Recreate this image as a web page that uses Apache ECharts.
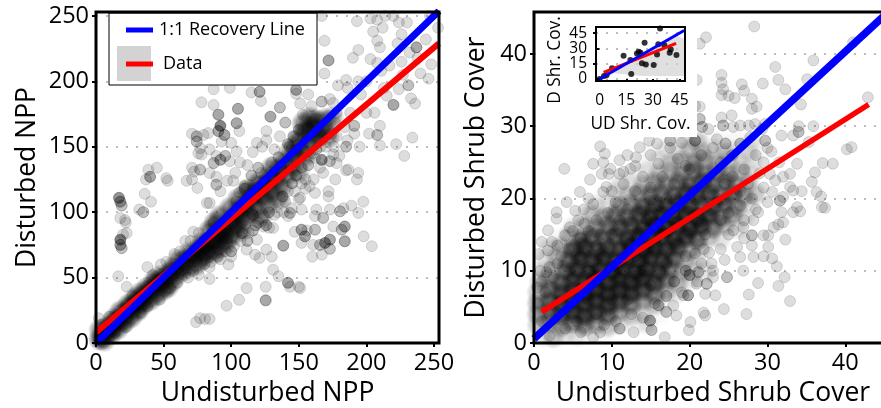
<!DOCTYPE html>
<html><head><meta charset="utf-8">
<script src="https://cdn.jsdelivr.net/npm/echarts@6/dist/echarts.min.js"></script>
<style>html,body{margin:0;padding:0;background:#fff;overflow:hidden}#c{width:881px;height:408px}</style>
</head><body><div id="c"></div>
<script>
// [x, y] or [x, y, n] where n = overlapping observations read at that spot
const nppUpperRight=[[167,250],[193,246],[203,248],[208,247],[214,250],[220,250],[224,245],[230,245],[247,250],[253,241],[205,238],[212,241],[208,231],[210,226],[226,236],[223,229],[194,224],[190,218],[203,217],[208,214],[169,231],[172,216,3],[169,206],[248,213],[237,226,3],[232,222],[226,215],[217,212],[211,208],[240,206],[246,202],[231,197,2],[224,194],[200,200],[194,200],[185,201],[179,197],[186,195],[233,187],[236,183],[220,182,3],[215,189],[206,176],[200,176],[191,166,2],[191,160],[210,166],[202,160],[208,159,2],[210,151],[222,152],[234,157],[228,143],[195,150],[185,150,2],[186,155],[178,158],[180,143],[185,132],[194,130],[193,125],[186.6,132.5],[176,150],[184,165],[188,176],[196,190],[213,195],[227,205],[238,218],[244,232]];
const nppUpperMiddle=[[71,160],[74.5,158,2],[74.5,154,2],[78,184],[87,182],[87,194],[99,195],[105,179,3],[83,160.5],[79.5,159],[77,149],[78,144],[84,148],[75.7,145],[87,137.5,2],[92,140,3],[95.6,143,2],[89,143],[90.5,174.5,3],[92,166,5],[90.5,162,3],[95,159,3],[93,154],[104,168,3],[106,162],[100,153],[104,146.5],[99,139],[106.5,138],[119,153],[126,162],[126,155],[121,192,3],[115,191.5],[122,185],[129,173,3],[136,180,2],[140,168.5,2],[148,193.5,3],[157,190],[148,190.5],[151,183],[167,184.5,2],[159.5,181],[153,174.5],[173,186.5],[175.5,183.5],[112,136],[116,146],[123,150],[132,148],[136,158]];
const nppLeftGroups=[[17,111,4],[18,108,3],[19,105,2],[18,95.5],[21.5,94],[22,92],[22.7,84],[20,83],[18,79,5],[18,75,3],[19,72.5,2],[16.5,51],[22.7,43],[40,127,3],[37,125],[38.7,132.5],[45,134],[52,126],[53,124],[36,114],[40.7,108],[32,102],[35,100,2],[67,124],[71,125],[75,118.5],[71,134],[77,132.5,2],[72.5,131],[84,130],[89,121,2],[92,116],[89,127],[97,124],[103,130],[101.5,124],[84,107],[82,107],[2,19],[4,14],[38,58],[48,60],[58,68],[66,78],[72,85]];
const nppLowerRight=[[167,140,4],[162,141.5],[173,139,2],[178,137.5],[175.5,144],[161,125],[168,130],[165.7,134],[177,125],[172,116],[172,112],[162,114.7],[155,125],[158,120],[151,111],[152,102],[143.5,99.4,2],[144.7,103],[142,97],[163,102],[173,102],[180.5,100.7,2],[183,103],[189,105],[194,99.4],[197.7,108],[162,97],[168,95.6,2],[184,89,3],[181.7,86.6,2],[175.5,89],[184,77.7,3],[173,79,3],[169.4,76.5,4],[165.7,75,2],[173,72,2],[167,67.5],[160,66],[160.7,75],[154.6,81.5,3],[152,86.6,3],[147,85],[162,86.6,2],[156,86],[152,76.5],[198,81.5],[204,74],[138.5,74.4,3],[131,88],[124,89],[119,79],[126,71.4],[121,65],[130,66],[117.6,67.5],[111.4,71.4],[131,56],[135,51],[142,46,3],[143.5,43],[150,43],[151,42],[125.5,43],[125.5,32.6,3],[111.4,42],[105.8,33],[96.6,28.5],[84,49],[74,16],[77,19],[80.6,18.4],[84,18.4],[100,66],[107,78],[113,84],[118,90,2],[124,96],[140,108],[147,116],[152,122]];
const nppBandTexture=[[10,20],[14,8],[22,12],[27,36],[33,23],[38,28],[42,52],[47,33],[52,62],[55,42],[60,46],[62,70],[66,52],[70,78],[72,55],[76,84],[80,60],[85,62],[87,92],[90,66],[96,70],[98,60],[102,74],[106,115],[110,120],[112,78,2],[116,86,2],[120,92],[122,130],[126,90,2],[128,100,2],[130,138],[132,98],[135,142,2],[138,112,2],[139,100],[142,116],[143,150],[145,122,2],[148,128,2],[150,110],[152,134,2],[155,118],[157,136,2],[160,145],[163,148,2],[166,150],[170,150],[174,160],[177,168],[178,176],[150,163,2],[146,158,2],[142,152,2],[120,134,2],[115,128,2],[110,118,2],[104,108],[134,100],[128,88],[116,98,2],[108,84,2],[100,70,2],[92,64],[84,58],[76,52],[68,50]];
const nppDiagonal=[[3,3,8],[3,10,3],[6,2,3],[7,7,8],[8,12,4],[11,7,5],[12,13,8],[13,18,4],[16,11,4],[16,17,8],[18,24,4],[21,16,5],[21,22,8],[24,29,5],[26,20,5],[26,27,8],[29,34,4],[31,25,5],[31,31,8],[33,38,4],[35,30,5],[36,36,8],[38,42,4],[40,33,4],[41,41,8],[43,47,4],[45,37,4],[46,45,8],[47,51,3],[50,41,4],[50,49,8],[53,43,4],[54,53,6],[57,48,3],[57,57,5],[61,63,3],[60,53,4],[63,57,5],[66,63,5],[68,58,4],[69,69,3],[72,67,6],[74,60,4],[76,71,6],[78,64,4],[78,76,5],[80,68,5],[82,76,7],[84,70,4],[84,86,4],[87,78,7],[88,69,3],[90,84,7],[91,73,5],[88,92,4],[95,88,7],[96,77,5],[94,82,7],[92,97,3],[100,94,8],[100,82,4],[103,89,5],[105,100,8],[99,103,3],[107,86,3],[110,105,7],[108,94,4],[105,110,3],[112,117,4],[115,110,6],[113,98,4],[118,103,3],[118,115,6],[120,122,5],[123,112,5],[125,120,5],[122,96,3],[127,106,3],[128,127,5],[130,116,4],[133,125,4],[130,134,3],[135,110,3],[137,120,3],[136,133,5],[141,128,3],[140,139,3],[145,135,3],[143,146,2],[147,143,3],[150,130,2],[152,147,3],[150,155,4],[155,143,3],[155,162,6],[158,155,6],[160,165,6],[164,158,6],[163,170,5],[168,163,5],[170,171,3],[172,158,3],[147,150,3],[153,168,3],[175,172,2],[158,172,3]];
const nppOneToOneX=[0,253.7], nppOneToOneY=[0,253.7];
const nppFitX=[0,253.7], nppFitY=[8,229];

const shrubTop=[[28.3,43.8],[22.1,42.3],[21.3,41.4],[41,41.6],[35.9,39.1],[31,38.2],[24.1,37.1],[31.4,36.4],[20.9,36.4],[24.1,36],[24.3,35.1],[24.1,34.3],[25,34.2],[25.8,33.9],[26.7,35.8],[27,34.9],[29.4,35.9],[32.3,35.1],[35.1,36.5],[28,33.8],[28.6,32.7],[28,32.4],[34.3,33],[42.9,34],[25.4,31.5],[24.1,31.2],[21.3,32.7],[20.7,32.8]];
const shrubUpper=[[29.7,28,2],[33.3,28.7],[34,29.2,2],[31.8,28.7],[34,30],[35.9,30],[28.4,30.3],[29.7,30.3],[27.6,30.1],[26.5,30.1],[29.3,29.6],[24.3,30.1,2],[25.6,29.9],[21.3,31,2],[21.6,29.9,2],[22.4,29.6],[23.5,28.2],[24.6,27.6,2],[26.5,27.6,2],[27.8,28.5],[20.7,28,3],[17.5,28,2],[15.8,27.6],[14.8,28],[13.6,27.1],[30.5,26.5],[31.5,25],[29.5,25],[30,27]];
const shrubUpperLeft=[[3.9,24.1],[8.5,27.2],[9.1,26.2],[7.6,24.8],[8.9,25],[9.8,24.1],[8.7,23.4],[9.6,23.4],[7.2,22.6],[11,25.3],[11.5,23.7],[12.4,24.1],[11,23.4],[13.1,25.7],[5.9,20.9],[7,20],[4.2,19.5],[2.9,18.1],[2.9,17.2],[5.3,18.3],[6.4,18.5],[7.6,19.2],[8.9,20.9],[9.3,21.6],[1.8,15.6],[1,14],[2.3,14],[4,14.9],[4.6,16],[5.7,17],[0.6,12.3],[1.8,12.8],[0.4,7.7],[0.8,10],[1.6,9.8],[7,15.5],[3.5,12]];
const shrubLowerRight=[[21.8,13],[23,10],[24.8,9.1,2],[26.9,10],[26.5,11.9],[26.1,13.3],[28,13.5],[28.2,11.9],[29.5,14.9],[30.1,14.9],[28,14.9,2],[25.6,15.6],[26.9,16],[28.2,17],[28.8,18.1],[30.1,13.3],[29.5,12],[30.6,11.7],[30.8,16],[31.4,16.4],[32,16.7],[32.3,14.3],[31.8,18.1],[33.3,18.1],[34.2,18.2],[33.8,18.8],[31.6,19.7,2],[32,20.2],[30.6,20.9],[32.9,21.6],[34.4,21],[33.3,21.1],[32,23],[32.9,23.4],[31,22.5],[33.8,24.8],[30.3,23.4],[35.7,22.3],[36.1,23.6],[36.3,20.9],[36.9,20.3],[37,18.8],[37.4,18.7],[37.1,24.9],[38.4,24.8],[35.3,27.8],[40.2,26.8],[40.8,27.1],[31.2,10.6],[32.2,9.1],[28.8,8.3],[31.4,7.9],[27.6,6.7],[32.9,5.8],[27.3,4],[24.4,4.7]];
const shrubBottom=[[16.8,0.8],[19.9,1.8],[20.1,2.9],[22,3.8],[21.8,4.2],[14.9,3.1,3],[15.1,1.8,2],[12.8,1.5],[11,2,2],[7.6,0.8],[8.5,1.5],[18.3,3.8],[17,4.3,2],[16,5.2,2],[17.9,5.2],[19.2,6.6],[19.8,6.6,3],[22,6.8],[23.3,6.6],[22.2,8.2,2],[20.9,8.2],[20,9.4,3],[21.1,9.8,2],[23,9.1],[22.8,11],[20.7,12.4]];
const shrubTexture=[[12,26],[13,24.5],[15,26],[16,24.8],[17.5,27],[18.5,25.5],[19,27.7],[20,24],[21.5,26],[23,27],[24,25],[25.5,26],[27,24],[28.5,26],[29,23.5],[27.5,22],[29.5,21.5],[28,20],[30,19.5],[26.5,19],[28.5,18.5],[27,17],[25,15],[27,14.5],[24,13],[24.5,11.5],[22.5,12.5],[21.5,11],[19.5,10,2],[21,8.5],[18,8.5,2],[19,7],[17,6.5,2],[15.5,5.5],[14,3.5],[12.5,4],[10.5,3],[9,2.5],[6,1.5],[4,2],[2,1],[1,3],[0.5,5.5],[1.5,7],[1,8.5],[2,10.5],[3,11],[2.5,9],[3,13.5],[4.5,13],[5,15.5],[6,14.5],[6.5,16.5],[8,17],[8.5,15],[9.5,18],[10.5,19.5],[11,17],[12,18.5],[10,21],[11.5,22],[13,21],[14,23],[15,21.5],[16.5,23],[18,22],[19.5,24.5],[20.5,21],[22.5,23],[24.5,22],[26,20.5],[25,18],[23.5,19.5],[26.5,21],[14.5,17],[12.5,15],[16,19],[18,18],[20,20],[9,12],[7,10],[5,9],[3.5,6],[5.5,3],[8,4],[12,6],[15,8],[17,11],[19.5,12],[22,15],[24,17],[21,18],[10,6],[14,10],[16.5,13],[13,12],[11,9],[7,6],[4.5,5],[2,4],[6,12],[8,13.5],[10,15],[23,20.5],[25.5,23],[17,20],[15,18.5]];
const shrubCore=[[1,1,2],[2.5,0.8,3],[4,1.2,2],[5.5,1,2],[7.5,1.3,1],[9,1,1],
[0.5,2.5,3],[2,2.8,4],[3.5,2.3,4],[5,2.8,5],[6.5,2.4,5],[8,2.7,4],[9.5,2.3,3],[11,2.6,2],[13,2.4,1],[14.5,2.7,2],
[0.5,4,4],[2,4.3,5],[3.5,3.9,7],[5,4.2,8],[6.5,3.8,8],[8,4.2,7],[9.5,3.9,6],[11,4.3,4],[12.5,3.8,3],[14,4.1,2],[16,3.9,1],
[0.5,5.5,4],[2,5.8,6],[3.5,5.3,7],[5,5.7,8],[6.5,5.4,9],[8,5.8,9],[9.5,5.3,8],[11,5.7,7],[12.5,5.4,5],[14,5.8,4],[15.5,5.3,3],[17,5.6,1],
[0.5,7,3],[2,7.3,5],[3.5,6.9,7],[5,7.2,8],[6.5,6.9,10],[8,7.3,10],[9.5,6.8,10],[11,7.2,10],[12.5,6.9,9],[14,7.3,7],[15.5,6.8,5],[17,7.2,3],[18.5,7,2],
[0.8,8.5,3],[2,8.8,4],[3.5,8.3,6],[5,8.7,7],[6.5,8.4,8],[8,8.8,10],[9.5,8.3,10],[11,8.7,10],[12.5,8.4,10],[14,8.8,9],[15.5,8.3,7],[17,8.7,5],[18.5,8.4,3],[20,8.7,2],
[1,10,2],[2.5,10.3,3],[4,9.9,6],[5.5,10.2,8],[7,9.8,8],[8.5,10.2,9],[10,9.9,10],[11.5,10.3,10],[13,9.8,10],[14.5,10.2,9],[16,9.8,8],[17.5,10.2,5],[19,9.8,3],[20.5,10.1,2],[22,9.9,2],
[1.5,11.5,2],[3,11.8,3],[4.5,11.3,6],[6,11.7,8],[7.5,11.4,8],[9,11.8,8],[10.5,11.3,9],[12,11.7,10],[13.5,11.4,10],[15,11.8,9],[16.5,11.3,8],[18,11.7,6],[19.5,11.3,3],[21,11.6,2],
[2,13,2],[3.5,13.3,3],[5,12.9,7],[6.5,13.2,8],[8,12.8,7],[9.5,13.2,7],[11,12.9,8],[12.5,13.3,9],[14,12.8,10],[15.5,13.2,10],[17,12.9,8],[18.5,13.3,7],[20,12.8,4],[21.5,13.1,2],
[3,14.5,1],[4.5,14.8,3],[6,14.3,6],[7.5,14.7,6],[9,14.4,5],[10.5,14.8,6],[12,14.3,8],[13.5,14.7,9],[15,14.4,10],[16.5,14.8,10],[18,14.3,9],[19.5,14.7,8],[21,14.3,6],[22.5,14.6,3],[24,14.4,2],
[5,16,2],[6.5,16.3,3],[8,15.8,4],[9.5,16.2,5],[11,15.9,6],[12.5,16.3,7],[14,15.8,9],[15.5,16.2,10],[17,15.9,10],[18.5,16.3,10],[20,15.8,10],[21.5,16.2,9],[23,15.9,5],[24.5,16.3,3],[26,15.8,2],
[6,17.5,1],[7.5,17.8,3],[9,17.3,4],[10.5,17.7,5],[12,17.4,5],[13.5,17.8,7],[15,17.3,9],[16.5,17.7,9],[18,17.4,8],[19.5,17.8,8],[21,17.3,9],[22.5,17.7,8],[24,17.3,5],[25.5,17.7,4],[27,17.4,2],
[8,19,2],[9.5,19.3,2],[11,18.9,4],[12.5,19.2,4],[14,18.8,6],[15.5,19.2,7],[17,18.9,7],[18.5,19.3,7],[20,18.8,7],[21.5,19.2,6],[23,18.9,6],[24.5,19.3,6],[26,18.8,4],[27.5,19.2,2],
[9,20.5,1],[10.5,20.8,2],[12,20.3,3],[13.5,20.7,4],[15,20.4,5],[16.5,20.8,5],[18,20.3,6],[19.5,20.7,7],[21,20.4,7],[22.5,20.8,6],[24,20.3,5],[25.5,20.7,5],[27,20.3,4],[28.5,20.6,3],
[11,22,2],[12.5,22.3,2],[14,21.8,3],[15.5,22.2,4],[17,21.9,4],[18.5,22.3,5],[20,21.8,6],[21.5,22.2,6],[23,21.9,5],[24.5,22.3,5],[26,21.8,4],[27.5,22.2,3],
[13,23.5,1],[14.5,23.8,2],[16,23.3,3],[17.5,23.7,3],[19,23.4,4],[20.5,23.8,5],[22,23.3,5],[23.5,23.7,4],[25,23.3,4],[26.5,23.7,3],[28,23.4,2],
[14,25,1],[16,25.3,2],[17.5,24.8,3],[19,25.2,3],[20.5,24.9,4],[22,25.3,4],[23.5,24.8,3],[25,25.2,3],[26.5,24.8,2],[28,25.2,2],
[15,26.5,1],[17,26.8,2],[18.5,26.3,2],[20,26.7,3],[21.5,26.4,3],[23,26.8,2],[24.5,26.3,3],[26,26.7,2],[27.5,26.4,2],[29,26.7,1],
[18,28,1],[19.5,28.2,2],[21,27.9,3],[22.5,28.3,1],[24,27.9,1],[26,28.2,1],[28,27.8,2]];
const shrubOneToOneX=[0,46], shrubOneToOneY=[0.6,46.3];
const shrubFitX=[1,43], shrubFitY=[4.3,33];

const insetPoints=[[34,49.5],[25.3,35.5],[13.5,22.8],[33,34],[36.4,33],[22,26.7],[23,25.7],[21,25],[17.3,18.6],[17.8,4.9],[23.8,15.3],[26,14.3],[30.4,13.7],[32.3,24],[43.2,23.5],[39.4,25.7],[40,29],[7,10.4],[4,4],[2.5,3],[0,0]];
const insetOneToOneX=[0,47.5], insetOneToOneY=[0,47.5];
const insetFitX=[2.3,43], insetFitY=[6.5,35];
const insetBandX=[2.3,12,22,32,43], insetBandLow=[3,12,20,27,31], insetBandHigh=[9,15,23,30,39];

const nppTicks=[0,50,100,150,200,250];
const shrubTicks=[0,10,20,30,40];
const insetTicks=[0,15,30,45];
const insetTicksEven=[0,30], insetTicksOdd=[15,45];

const FONT='"Open Sans","Noto Sans",sans-serif';
const ALPHA=0.17;
function weighted(list){return list.map(p=>{
  const n=p[2]||1,a=1-Math.pow(1-ALPHA,n);
  return {value:[p[0],p[1]],itemStyle:{color:'rgba(0,0,0,'+a.toFixed(3)+')',borderColor:'rgba(0,0,0,'+(n===1?ALPHA:Math.min(a,0.4)).toFixed(3)+')',borderWidth:1}};
});}
function blobs(list,base,power){return list.map(p=>{
  const n=p[2]||1,a=1-Math.pow(base,Math.pow(n,power)/(power>1?5:1));
  return {value:[p[0],p[1]],itemStyle:{color:{type:'radial',x:0.5,y:0.5,r:0.5,colorStops:[
    {offset:0,color:'rgba(0,0,0,'+a.toFixed(3)+')'},
    {offset:0.55,color:'rgba(0,0,0,'+(a*0.8).toFixed(3)+')'},
    {offset:1,color:'rgba(0,0,0,0)'}]},borderWidth:0}};
});}
function pairs(a,b){return a.map((v,i)=>[v,b[i]]);}
function scatter(name,list,ax,size){return {name,type:'scatter',xAxisIndex:ax,yAxisIndex:ax,symbolSize:size,data:weighted(list),z:2,large:false,progressive:0,animation:false,silent:true};}
function density(name,list,ax,size,base,power){return {name,type:'scatter',xAxisIndex:ax,yAxisIndex:ax,symbolSize:size,data:blobs(list,base,power),z:2,large:false,progressive:0,animation:false,silent:true};}
function line(name,xs,ys,color,w,ax,z){return {name,type:'line',xAxisIndex:ax,yAxisIndex:ax,data:pairs(xs,ys),symbol:'none',lineStyle:{color,width:w,cap:'butt'},itemStyle:{color},z:z||3,animation:false,silent:true};}
function axis(min,max,ticks,gridIndex,nm,gap,rot,fs,tfs,z,margin){const o={type:'value',gridIndex,min,max,name:nm,nameLocation:'middle',nameGap:gap,nameRotate:rot,
  nameTextStyle:{fontFamily:FONT,fontSize:tfs,color:'#000'},
  axisLine:{show:false},
  axisTick:{show:true,length:z?3:4,lineStyle:{color:'#000',width:2},customValues:ticks},
  axisLabel:{fontFamily:FONT,fontSize:fs,color:'#000',margin:margin,customValues:ticks,hideOverlap:false,showMinLabel:true,showMaxLabel:true},
  splitLine:{show:false}};
  if(z)o.z=z;return o;}
function yAxis(min,max,ticks,gridIndex,nm,gap,fs,tfs,z,margin){const o=axis(min,max,ticks,gridIndex,nm,gap,90,fs,tfs,z,margin);
  o.position='left';
  o.splitLine={show:true,lineStyle:{color:'#bdbdbd',width:2,type:[2,8]}};return o;}
const insetY=yAxis(-2,51,insetTicksEven,2,'D Shr. Cov.',32,15.5,17.3,6,9);
insetY.nameTextStyle.padding=[0,12,0,0];
const insetYOdd=yAxis(-2,51,insetTicksOdd,2,'',0,15.5,17.3,6,9);

const chart=echarts.init(document.getElementById('c'),null,{renderer:'canvas'});
chart.setOption({
  animation:false,backgroundColor:'#fff',
  grid:[
    {left:96,top:12,width:343,height:331,show:true,z:10,outerBoundsMode:'none',backgroundColor:'transparent',borderColor:'#000',borderWidth:3},
    {left:534,top:12,width:358,height:331,show:true,z:10,outerBoundsMode:'none',backgroundColor:'transparent',borderColor:'#000',borderWidth:3},
    {left:596,top:27,width:89,height:54,show:true,z:10,outerBoundsMode:'none',backgroundColor:'transparent',borderColor:'#000',borderWidth:2}
  ],
  xAxis:[
    axis(0,253.7,nppTicks,0,'Undisturbed NPP',34,0,23.5,26.5,0,8),
    axis(0,46,shrubTicks,1,'Undisturbed Shrub Cover',34,0,23.5,26.5,0,8),
    axis(-2,48,insetTicks,2,'UD Shr. Cov.',35,0,15.5,17.3,6,12)
  ],
  yAxis:[
    yAxis(0,253,nppTicks,0,'Disturbed NPP',55,23.5,26.5,0,7),
    yAxis(0,45.8,shrubTicks,1,'Disturbed Shrub Cover',44,23.5,26.5,0,7),
    insetY,insetYOdd
  ],
  legend:{left:121,top:16,orient:'vertical',z:5,itemWidth:27,itemHeight:5,itemGap:16,icon:'rect',
    textStyle:{fontFamily:FONT,fontSize:18,color:'#000'},
    data:[{name:'1:1 Recovery Line',textStyle:{padding:[0,0,0,1]}},{name:'Data',textStyle:{padding:[0,0,0,5]}}],selectedMode:false},
  graphic:[
    {type:'rect',z:4,shape:{x:537,y:14,width:160,height:123},style:{fill:'#fff'}},
    {type:'rect',z:4,shape:{x:109,y:13,width:208,height:72},style:{fill:'#fff',stroke:'#000',lineWidth:1}},
    {type:'rect',z:4,shape:{x:117,y:46,width:34,height:35},style:{fill:'#d3d3d3'}}
  ],
  series:[
    scatter('NPP upper right',nppUpperRight,0,11),
    scatter('NPP upper middle',nppUpperMiddle,0,11),
    scatter('NPP left groups',nppLeftGroups,0,11),
    scatter('NPP lower right',nppLowerRight,0,11),
    density('NPP diagonal',nppDiagonal,0,24,0.72,1),
    scatter('NPP band',nppBandTexture,0,11),
    line('Data',nppFitX,nppFitY,'#ff0000',6,0),
    line('1:1 Recovery Line',nppOneToOneX,nppOneToOneY,'#0000ff',7,0,4),
    density('Shrub core',shrubCore,1,24,0.8,1.9),
    scatter('Shrub texture',shrubTexture,1,11),
    scatter('Shrub top',shrubTop,1,11),
    scatter('Shrub upper',shrubUpper,1,11),
    scatter('Shrub upper left',shrubUpperLeft,1,11),
    scatter('Shrub lower right',shrubLowerRight,1,11),
    scatter('Shrub bottom',shrubBottom,1,11),
    line('Shrub fit',shrubFitX,shrubFitY,'#ff0000',5.5,1),
    line('Shrub 1:1',shrubOneToOneX,shrubOneToOneY,'#0000ff',7.5,1,4),
    {name:'band low',type:'line',xAxisIndex:2,yAxisIndex:2,stack:'band',symbol:'none',data:pairs(insetBandX,insetBandLow),lineStyle:{opacity:0},z:6,silent:true},
    {name:'band',type:'line',xAxisIndex:2,yAxisIndex:2,stack:'band',symbol:'none',data:pairs(insetBandX,insetBandHigh.map((v,i)=>v-insetBandLow[i])),lineStyle:{opacity:0},areaStyle:{color:'#d3d3d3'},z:6,silent:true},
    {name:'Inset points',type:'scatter',xAxisIndex:2,yAxisIndex:2,symbolSize:6,data:insetPoints,itemStyle:{color:'#000'},z:7,silent:true},
    line('Inset fit',insetFitX,insetFitY,'#ff0000',3,2,8),
    line('Inset 1:1',insetOneToOneX,insetOneToOneY,'#0000ff',3,2,9)
  ]
});
</script></body></html>
